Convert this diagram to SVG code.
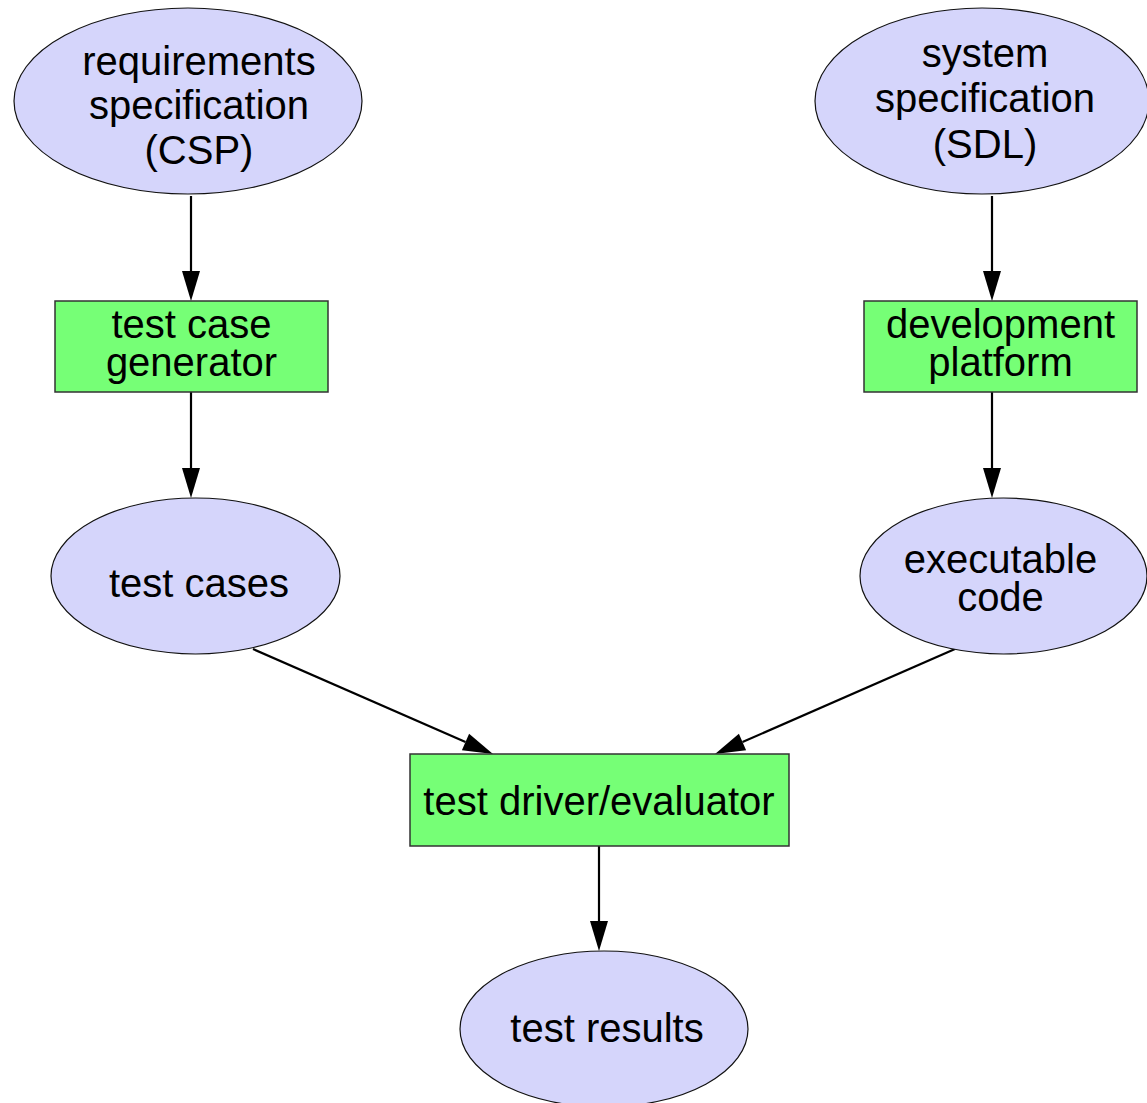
<svg xmlns="http://www.w3.org/2000/svg" width="1147" height="1103" viewBox="0 0 1147 1103">
  <defs>
    <style>
      .data ellipse { fill: #d5d5fb; stroke: #111; stroke-width: 1.2; }
      .proc rect { fill: #76ff76; stroke: #333; stroke-width: 1.5; }
      text { font-family: "Liberation Sans", Arial, sans-serif; font-size: 40px; fill: #000; text-anchor: middle; }
      .edge { fill: none; stroke: #000; stroke-width: 2.2; marker-end: url(#head); }
    </style>
    <!-- arrowhead starts at the line end and points forward 30px -->
    <marker id="head" markerUnits="userSpaceOnUse" markerWidth="32" markerHeight="20" refX="0" refY="9" orient="auto" overflow="visible">
      <path d="M0,0 L30,9 L0,18 Z" fill="#000"/>
    </marker>
  </defs>

  <rect width="1147" height="1103" fill="#fff"/>

  <g id="connectors">
    <path class="edge" d="M191,196 L191,271"/>
    <path class="edge" d="M992,196 L992,271"/>
    <path class="edge" d="M191,392 L191,468"/>
    <path class="edge" d="M992,392 L992,468"/>
    <path class="edge" d="M253,649 L465.5,742"/>
    <path class="edge" d="M955,649 L742.5,742"/>
    <path class="edge" d="M599,846 L599,921"/>
  </g>

  <g id="requirements-spec" class="data">
    <ellipse cx="188" cy="101" rx="174" ry="93"/>
    <text x="199" y="75">requirements</text>
    <text x="199" y="119">specification</text>
    <text x="199" y="164">(CSP)</text>
  </g>

  <g id="system-spec" class="data">
    <ellipse cx="982" cy="101" rx="167" ry="93"/>
    <text x="985" y="67">system</text>
    <text x="985" y="112">specification</text>
    <text x="985" y="158">(SDL)</text>
  </g>

  <g id="test-case-generator" class="proc">
    <rect x="55" y="301" width="273" height="91"/>
    <text x="191.5" y="338">test case</text>
    <text x="191.5" y="376">generator</text>
  </g>

  <g id="development-platform" class="proc">
    <rect x="864" y="301" width="273" height="91"/>
    <text x="1000.5" y="338">development</text>
    <text x="1000.5" y="376">platform</text>
  </g>

  <g id="test-cases" class="data">
    <ellipse cx="195.5" cy="576" rx="144.5" ry="78"/>
    <text x="199" y="597">test cases</text>
  </g>

  <g id="executable-code" class="data">
    <ellipse cx="1003.5" cy="576" rx="143.5" ry="78"/>
    <text x="1000.5" y="573">executable</text>
    <text x="1000.5" y="611">code</text>
  </g>

  <g id="test-driver" class="proc">
    <rect x="410" y="754" width="379" height="92"/>
    <text x="599" y="815">test driver/evaluator</text>
  </g>

  <g id="test-results" class="data">
    <ellipse cx="604" cy="1029" rx="144" ry="78"/>
    <text x="607" y="1042">test results</text>
  </g>
</svg>
